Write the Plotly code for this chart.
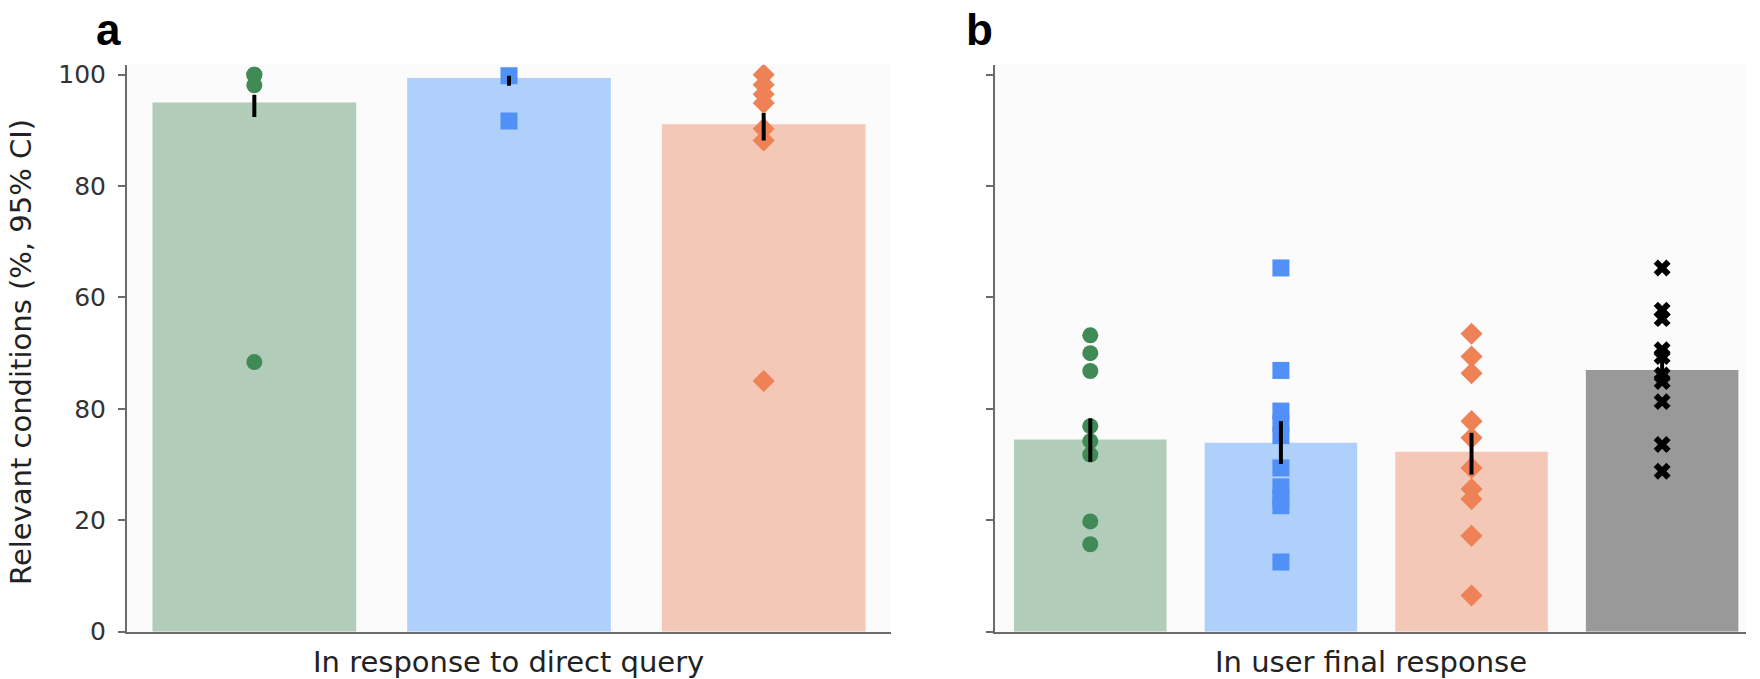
import plotly.graph_objects as go

W, H = 1760, 679
H_LAYOUT = 694  # probe: does the rendered height follow the layout height?

# ---------------- data ----------------
groups_a = ["green", "blue", "orange"]
groups_b = ["green", "blue", "orange", "gray"]

a_means = [95.0, 99.4, 91.1]
a_ci_lo = [92.4, 98.0, 88.2]
a_ci_hi = [96.4, 99.8, 93.1]
a_green_pts = [100.0, 100.0, 98.1, 48.4]
a_blue_pts = [99.8, 91.7]
a_orange_pts = [100.0, 98.2, 96.5, 94.9, 90.3, 88.2, 45.0]

b_means = [34.5, 33.9, 32.3, 47.0]
b_ci_lo = [30.5, 30.1, 28.2, 44.6]
b_ci_hi = [38.3, 37.8, 35.7, 49.1]
b_green_pts = [53.2, 50.0, 46.8, 36.9, 34.2, 31.8, 19.8, 15.7]
b_blue_pts = [65.3, 46.9, 39.6, 37.4, 35.2, 29.4, 26.0, 24.0, 22.6, 12.5]
b_orange_pts = [53.5, 49.4, 46.4, 37.8, 34.8, 29.4, 25.6, 23.8, 17.2, 6.5]
b_gray_pts = [65.3, 57.7, 56.2, 50.6, 49.4, 46.1, 44.9, 41.3, 33.6, 28.8]

y_tickvals = [0, 20, 40, 60, 80, 100]
y_ticktext = ["0", "20", "80", "60", "80", "100"]

xtitle_a = "In response to direct query"
xtitle_b = "In user final response"
ytitle = "Relevant conditions (%, 95% CI)"

# ---------------- styles ----------------
bar_colors = {"green": "#b1cdb9", "blue": "#b0d0fc", "orange": "#f3c8b7", "gray": "#999999"}
pt_colors = {"green": "#3f8a55", "blue": "#5190f7", "orange": "#ee8155", "gray": "#000000"}
pt_symbols = {"green": "circle", "blue": "square", "orange": "diamond", "gray": "x"}
pt_sizes = {"green": 16, "blue": 17, "orange": 17, "gray": 15}

FONT = "DejaVu Sans"
fig = go.Figure()


def add_panel(groups, means, lo, hi, pts, xa, ya):
    xs = list(range(len(groups)))
    fig.add_trace(go.Bar(
        x=xs, y=means, width=0.8,
        marker=dict(color=[bar_colors[g] for g in groups], line=dict(width=0)),
        xaxis=xa, yaxis=ya, showlegend=False, hoverinfo="skip"))
    for i, g in enumerate(groups):
        fig.add_trace(go.Scatter(
            x=[i] * len(pts[i]), y=pts[i], mode="markers",
            marker=dict(symbol=pt_symbols[g], size=pt_sizes[g], color=pt_colors[g],
                        line=dict(width=0)),
            xaxis=xa, yaxis=ya, showlegend=False, hoverinfo="skip"))
    fig.add_trace(go.Scatter(
        x=xs, y=means, mode="markers",
        marker=dict(size=1, color="rgba(0,0,0,0)"),
        error_y=dict(type="data", symmetric=False,
                     array=[h - m for h, m in zip(hi, means)],
                     arrayminus=[m - l for m, l in zip(means, lo)],
                     color="black", thickness=4, width=0),
        xaxis=xa, yaxis=ya, showlegend=False, hoverinfo="skip"))


add_panel(groups_a, a_means, a_ci_lo, a_ci_hi,
          [a_green_pts, a_blue_pts, a_orange_pts], "x", "y")
add_panel(groups_b, b_means, b_ci_lo, b_ci_hi,
          [b_green_pts, b_blue_pts, b_orange_pts, b_gray_pts], "x2", "y2")

axis_line = "#6b6b6b"
common_x = dict(showgrid=False, zeroline=False, showticklabels=False, ticks="",
                showline=True, linecolor=axis_line, linewidth=2)
common_y = dict(showgrid=False, zeroline=False, range=[0, 101.8],
                tickvals=y_tickvals, ticktext=y_ticktext, ticks="outside",
                ticklen=7, tickwidth=1.5, tickcolor=axis_line,
                showline=True, linecolor=axis_line, linewidth=2,
                ticklabelstandoff=7,
                tickfont=dict(family=FONT, size=25, color="#333333"))


def fy(px):
    return 1 - px / H


fig.update_layout(
    width=W, height=H_LAYOUT, autosize=False,
    margin=dict(l=0, r=0, t=0, b=H_LAYOUT - H),
    paper_bgcolor="white",
    plot_bgcolor="#fbfbfb",
    xaxis=dict(domain=[127 / W, 891 / W], range=[-0.5, 2.5], **common_x),
    yaxis=dict(domain=[fy(631.4), fy(61.0)], anchor="x", **common_y),
    xaxis2=dict(domain=[995 / W, 1746 / W], range=[-0.5, 3.44], anchor="y2", **common_x),
    yaxis2=dict(domain=[fy(631.4), fy(61.0)], anchor="x2", **{**common_y, "showticklabels": False}),
    bargap=0.2,
)

ann_font = dict(family=FONT, size=29, color="#222222")
fig.add_annotation(text=xtitle_a, x=(127 + 891) / 2 / W, y=fy(662), xref="paper", yref="paper",
                   showarrow=False, font=ann_font, xanchor="center", yanchor="middle")
fig.add_annotation(text=xtitle_b, x=(995 + 1746) / 2 / W, y=fy(662), xref="paper", yref="paper",
                   showarrow=False, font=ann_font, xanchor="center", yanchor="middle")
fig.add_annotation(text=ytitle, x=21 / W, y=fy(350), xref="paper", yref="paper",
                   showarrow=False, font=ann_font, textangle=-90, xanchor="center", yanchor="middle")

lab_font = dict(family="Liberation Sans", size=44, color="black")
fig.add_annotation(text="<b>a</b>", x=108 / W, y=fy(0), xref="paper", yref="paper",
                   showarrow=False, font=lab_font, xanchor="center", yanchor="top", borderpad=0)
fig.add_annotation(text="<b>b</b>", x=980 / W, y=fy(0), xref="paper", yref="paper",
                   showarrow=False, font=lab_font, xanchor="center", yanchor="top", borderpad=0)

fig.write_html(
    "out.html",
    config={"displayModeBar": False},
    post_script=(
        "document.documentElement.style.overflow='hidden';"
        "document.body.style.margin='0';document.body.style.padding='0';"
    ),
)
